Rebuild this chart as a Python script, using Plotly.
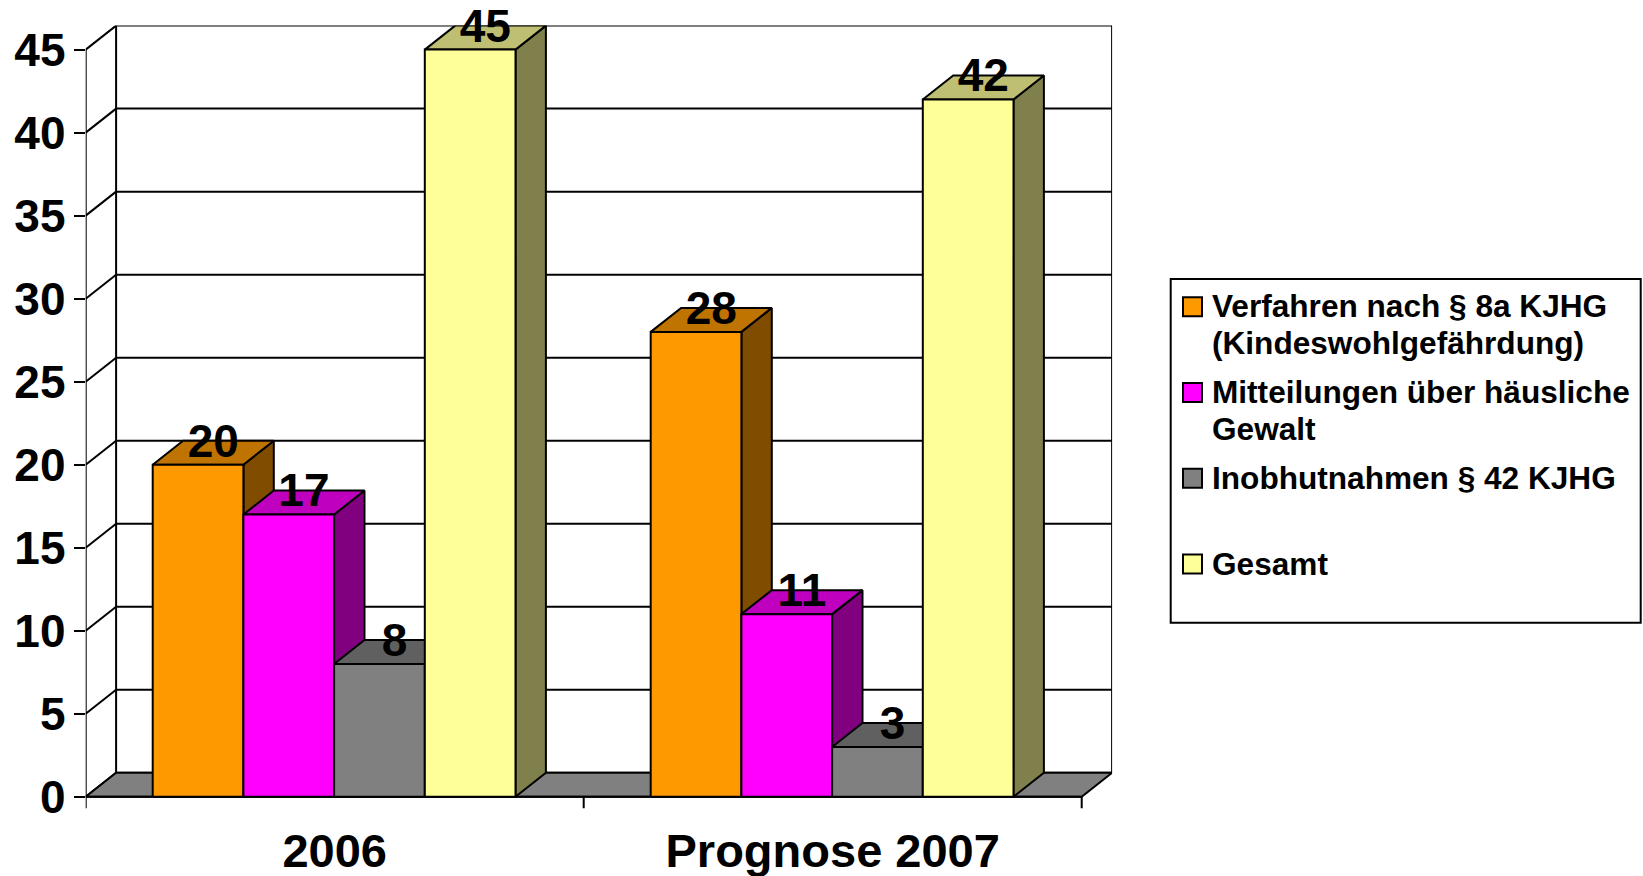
"""Bar chart with Excel style 3D look: Verfahren und Mitteilungen 2006 / Prognose 2007."""

import plotly.graph_objects as go

categories = ["2006", "Prognose 2007"]
series_names = [
    ["Verfahren nach § 8a KJHG", "(Kindeswohlgefährdung)"],
    ["Mitteilungen über häusliche", "Gewalt"],
    ["Inobhutnahmen § 42 KJHG"],
    ["Gesamt"],
]
verfahren = [20, 28]
mitteilungen = [17, 11]
inobhut = [8, 3]
gesamt = [45, 42]
y_ticks = [0, 5, 10, 15, 20, 25, 30, 35, 40, 45]

all_series = [verfahren, mitteilungen, inobhut, gesamt]
front_colors = ["#FF9900", "#FF00FF", "#808080", "#FFFF99"]
top_colors = ["#BF7300", "#BF00BF", "#606060", "#BFBF73"]
side_colors = ["#804D00", "#800080", "#404040", "#80804D"]

W, H = 1643, 876
# pixel frame of the front plane and the wall
X0_PX, CAT_PX = 85.7, 498.0
Y0_PX, Y45_PX = 796.8, 49.6
DX_PX, DY_PX = 30.4, 24.0
UNIT_PX = (Y0_PX - Y45_PX) / 45
DX = DX_PX / CAT_PX
DY = DY_PX / UNIT_PX
BAR_W = 90.7 / CAT_PX
BAR_SHIFT = -0.6 / CAT_PX
# the y axis starts below zero, that leaves room for the x tick marks
Y_BOTTOM = -0.7
LINE = dict(color="black", width=2)
FONT = "Liberation Sans"


def polygon(xs, ys, color):
    return go.Scatter(
        x=xs + xs[:1], y=ys + ys[:1], mode="lines", fill="toself", fillcolor=color,
        line=LINE, hoverinfo="skip", showlegend=False, cliponaxis=False,
    )


def segments(pairs):
    xs, ys = [], []
    for (x1, y1), (x2, y2) in pairs:
        xs += [x1, x2, None]
        ys += [y1, y2, None]
    return go.Scatter(
        x=xs, y=ys, mode="lines", line=LINE, hoverinfo="skip",
        showlegend=False, cliponaxis=False,
    )


n_cat = len(categories)
fig = go.Figure()

# wall grid, floor and front axes
wall = [((DX, DY), (DX, y_ticks[-1] + DY)), ((n_cat + DX, DY), (n_cat + DX, y_ticks[-1] + DY))]
for t in y_ticks:
    wall.append(((0, t), (DX, t + DY)))
    wall.append(((DX, t + DY), (n_cat + DX, t + DY)))
fig.add_trace(segments(wall))
fig.add_trace(polygon([0, n_cat, n_cat + DX, DX], [0, 0, DY, DY], "#808080"))
x_marks = [((i, 0), (i, Y_BOTTOM)) for i in range(n_cat + 1)]
fig.add_trace(segments([((0, 0), (0, y_ticks[-1])), ((0, 0), (n_cat, 0))] + x_marks))

# bars, left to right so that each one hides the side of the previous one
label_x, label_y, label_text = [], [], []
for c in range(n_cat):
    for s, values in enumerate(all_series):
        v = values[c]
        left = c + 0.5 + (s - 2) * BAR_W + BAR_SHIFT
        right = left + BAR_W
        fig.add_trace(polygon([right, right + DX, right + DX, right], [0, DY, v + DY, v], side_colors[s]))
        fig.add_trace(polygon([left, right, right + DX, left + DX], [v, v, v + DY, v + DY], top_colors[s]))
        fig.add_trace(polygon([left, right, right, left], [0, 0, v, v], front_colors[s]))
        label_x.append(left + BAR_W / 2 + DX / 2)
        label_y.append(v + 1.18)
        label_text.append(str(v))

fig.add_trace(go.Scatter(
    x=label_x, y=label_y, text=label_text, mode="text", textposition="middle center",
    textfont=dict(family=FONT, size=46, color="black", weight=700),
    hoverinfo="skip", showlegend=False, cliponaxis=False,
))

# legend box
shapes = [dict(type="rect", xref="paper", yref="paper", x0=1170.7 / W, x1=1640.7 / W,
               y0=1 - 279 / H, y1=1 - 622.7 / H, line=dict(color="black", width=2), fillcolor="white")]
annotations = []
for i, lines in enumerate(series_names):
    baseline = 316.7 + 85.8 * i
    shapes.append(dict(type="rect", xref="paper", yref="paper", x0=1183 / W, x1=1202 / W,
                       y0=1 - (baseline - 19.5) / H, y1=1 - (baseline - 0.5) / H,
                       line=dict(color="black", width=2), fillcolor=front_colors[i]))
    for j, line in enumerate(lines):
        annotations.append(dict(
            text=line, xref="paper", yref="paper", x=1211 / W, y=1 - (baseline + 37.3 * j - 10.5) / H,
            xanchor="left", yanchor="middle", showarrow=False, borderpad=0,
            font=dict(family=FONT, size=31.6, color="black", weight=700),
        ))

fig.update_layout(
    width=W, height=H, margin=dict(l=0, r=0, t=0, b=0, pad=0),
    paper_bgcolor="white", plot_bgcolor="white", showlegend=False,
    shapes=shapes, annotations=annotations,
    xaxis=dict(
        domain=[X0_PX / W, (X0_PX + (n_cat + DX) * CAT_PX) / W], range=[0, n_cat + DX],
        tickvals=[i + 0.5 for i in range(n_cat)], ticktext=categories, ticks="",
        showgrid=False, zeroline=False, showline=False, ticklabelstandoff=11, automargin=False,
        tickfont=dict(family=FONT, size=47, color="black", weight=700),
    ),
    yaxis=dict(
        domain=[1 - (Y0_PX - Y_BOTTOM * UNIT_PX) / H, 1 - (Y45_PX - DY_PX) / H],
        range=[Y_BOTTOM, y_ticks[-1] + DY],
        tickvals=y_ticks, ticks="outside", ticklen=11, tickwidth=2, tickcolor="black",
        showgrid=False, zeroline=False, showline=False, ticklabelstandoff=-1, automargin=False,
        tickfont=dict(family=FONT, size=46, color="black", weight=700),
    ),
)

fig.write_html(
    "out.html",
    config=dict(displayModeBar=False),
    post_script="document.body.style.margin='0';document.body.style.overflow='hidden';",
)
